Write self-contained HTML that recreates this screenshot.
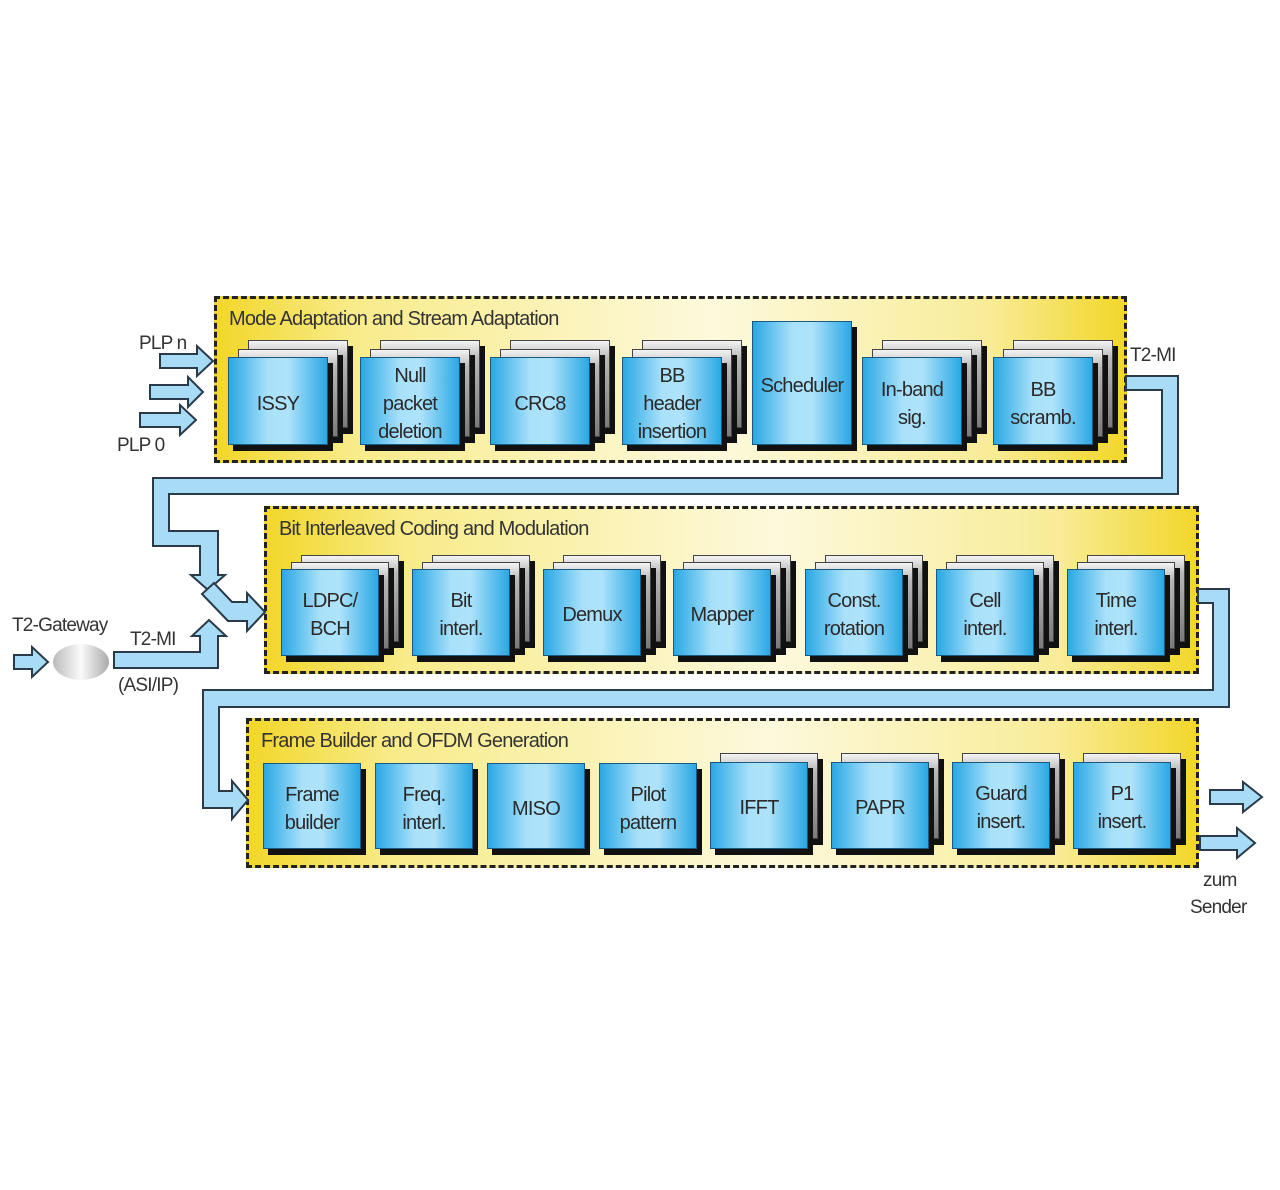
<!DOCTYPE html>
<html><head><meta charset="utf-8"><style>
body{margin:0;background:#fff;}
#c{position:relative;width:1280px;height:1190px;overflow:hidden;font-family:"Liberation Sans",sans-serif;color:#2a2a2a;}
.p{position:absolute;border:3px dashed #222;box-sizing:border-box;background:linear-gradient(90deg,#f2d72a 0%,#f8eb8a 15%,#fdf9dc 55%,#f8ec98 85%,#f2d72a 100%);}
.pt{position:absolute;left:12px;top:9px;font-size:20px;letter-spacing:-0.8px;color:#333;white-space:nowrap;}
.b{position:absolute;box-sizing:border-box;border:1px solid #1a5a80;background:linear-gradient(90deg,#2aa8e4 0%,#a9e1fa 40%,#aee3fb 60%,#2aa8e4 100%);box-shadow:5px 6px 0 #111;display:flex;align-items:center;justify-content:center;text-align:center;font-size:20px;line-height:28px;letter-spacing:-0.8px;color:#2a2a2a;padding-top:5px;}
.g{position:absolute;box-sizing:border-box;border:1px solid #444;background:linear-gradient(180deg,#f4f4f4 0%,#b8b8b8 20%,#7a7a7a 100%);box-shadow:5px 6px 0 #111;}
.t{position:absolute;font-size:19px;letter-spacing:-0.8px;color:#333;white-space:nowrap;}
</style></head><body><div id="c">

<div class="p" style="left:214px;top:296px;width:913px;height:167px;"><div class="pt">Mode Adaptation and Stream Adaptation</div></div>
<div class="p" style="left:264px;top:506px;width:935px;height:168px;"><div class="pt">Bit Interleaved Coding and Modulation</div></div>
<div class="p" style="left:246px;top:718px;width:953px;height:150px;"><div class="pt">Frame Builder and OFDM Generation</div></div>

<!-- Row 1 -->
<div class="g" style="left:248px;top:340px;width:100px;height:88px"></div><div class="g" style="left:238px;top:349px;width:100px;height:88px"></div><div class="b" style="left:228px;top:357px;width:100px;height:88px">ISSY</div>
<div class="g" style="left:380px;top:340px;width:100px;height:88px"></div><div class="g" style="left:370px;top:349px;width:100px;height:88px"></div><div class="b" style="left:360px;top:357px;width:100px;height:88px">Null<br>packet<br>deletion</div>
<div class="g" style="left:510px;top:340px;width:100px;height:88px"></div><div class="g" style="left:500px;top:349px;width:100px;height:88px"></div><div class="b" style="left:490px;top:357px;width:100px;height:88px">CRC8</div>
<div class="g" style="left:642px;top:340px;width:100px;height:88px"></div><div class="g" style="left:632px;top:349px;width:100px;height:88px"></div><div class="b" style="left:622px;top:357px;width:100px;height:88px">BB<br>header<br>insertion</div>
<div class="b" style="left:752px;top:321px;width:100px;height:124px">Scheduler</div>
<div class="g" style="left:882px;top:340px;width:100px;height:88px"></div><div class="g" style="left:872px;top:349px;width:100px;height:88px"></div><div class="b" style="left:862px;top:357px;width:100px;height:88px">In-band<br>sig.</div>
<div class="g" style="left:1013px;top:340px;width:100px;height:88px"></div><div class="g" style="left:1003px;top:349px;width:100px;height:88px"></div><div class="b" style="left:993px;top:357px;width:100px;height:88px">BB<br>scramb.</div>

<!-- Row 2 -->
<div class="g" style="left:301px;top:555px;width:98px;height:87px"></div><div class="g" style="left:291px;top:562px;width:98px;height:87px"></div><div class="b" style="left:281px;top:569px;width:98px;height:87px">LDPC/<br>BCH</div>
<div class="g" style="left:432px;top:555px;width:98px;height:87px"></div><div class="g" style="left:422px;top:562px;width:98px;height:87px"></div><div class="b" style="left:412px;top:569px;width:98px;height:87px">Bit<br>interl.</div>
<div class="g" style="left:563px;top:555px;width:98px;height:87px"></div><div class="g" style="left:553px;top:562px;width:98px;height:87px"></div><div class="b" style="left:543px;top:569px;width:98px;height:87px">Demux</div>
<div class="g" style="left:693px;top:555px;width:98px;height:87px"></div><div class="g" style="left:683px;top:562px;width:98px;height:87px"></div><div class="b" style="left:673px;top:569px;width:98px;height:87px">Mapper</div>
<div class="g" style="left:825px;top:555px;width:98px;height:87px"></div><div class="g" style="left:815px;top:562px;width:98px;height:87px"></div><div class="b" style="left:805px;top:569px;width:98px;height:87px">Const.<br>rotation</div>
<div class="g" style="left:956px;top:555px;width:98px;height:87px"></div><div class="g" style="left:946px;top:562px;width:98px;height:87px"></div><div class="b" style="left:936px;top:569px;width:98px;height:87px">Cell<br>interl.</div>
<div class="g" style="left:1087px;top:555px;width:98px;height:87px"></div><div class="g" style="left:1077px;top:562px;width:98px;height:87px"></div><div class="b" style="left:1067px;top:569px;width:98px;height:87px">Time<br>interl.</div>

<!-- Row 3 -->
<div class="b" style="left:263px;top:763px;width:98px;height:86px">Frame<br>builder</div>
<div class="b" style="left:375px;top:763px;width:98px;height:86px">Freq.<br>interl.</div>
<div class="b" style="left:487px;top:763px;width:98px;height:86px">MISO</div>
<div class="b" style="left:599px;top:763px;width:98px;height:86px">Pilot<br>pattern</div>
<div class="g" style="left:720px;top:753px;width:98px;height:86px"></div><div class="b" style="left:710px;top:762px;width:98px;height:87px">IFFT</div>
<div class="g" style="left:841px;top:753px;width:98px;height:86px"></div><div class="b" style="left:831px;top:762px;width:98px;height:87px">PAPR</div>
<div class="g" style="left:962px;top:753px;width:98px;height:86px"></div><div class="b" style="left:952px;top:762px;width:98px;height:87px">Guard<br>insert.</div>
<div class="g" style="left:1083px;top:753px;width:98px;height:86px"></div><div class="b" style="left:1073px;top:762px;width:98px;height:87px">P1<br>insert.</div>

<svg style="position:absolute;left:0;top:0" width="1280" height="1190">
<defs><linearGradient id="cl" x1="0" x2="1"><stop offset="0" stop-color="#bbb"/><stop offset="0.5" stop-color="#fafafa"/><stop offset="1" stop-color="#aaa"/></linearGradient></defs>
<g fill="#a8dcf6" stroke="#2a3a48" stroke-width="2" stroke-linejoin="miter">
<polygon points="1126,376 1178,376 1178,494 169,494 169,531 218,531 218,575 225,575 208,590 191,575 200,575 200,546 153,546 153,478 1162,478 1162,390 1126,390"/>
<polygon points="202,594 214,583 232,602 247,602 247,593 265,612 247,631 247,621 228,621"/>
<polygon points="114,668 114,652 200,652 200,636 192,636 209,620 226,636 218,636 218,668"/>
<polygon points="1198,589 1229,589 1229,707 219,707 219,791 232,791 232,781 248,800 232,819 232,808 203,808 203,690 1213,690 1213,603 1198,603"/>
<polygon points="160,354 197,354 197,346 213,361 197,376 197,368 160,368"/>
<polygon points="150,385 188,385 188,377 203,392 188,407 188,399 150,399"/>
<polygon points="140,413 180,413 180,405 196,420 180,435 180,427 140,427"/>
<polygon points="14,655 32,655 32,647 48,662 32,677 32,669 14,669"/>
<polygon points="1210,790 1243,790 1243,782 1262,797 1243,812 1243,804 1210,804"/>
<polygon points="1200,836 1237,836 1237,828 1255,843 1237,858 1237,850 1200,850"/>
</g>
<ellipse cx="81" cy="662" rx="28" ry="18" fill="url(#cl)"/>
</svg>

<div class="t" style="left:139px;top:333px;">PLP n</div>
<div class="t" style="left:117px;top:435px;">PLP 0</div>
<div class="t" style="left:1130px;top:345px;">T2-MI</div>
<div class="t" style="left:12px;top:615px;">T2-Gateway</div>
<div class="t" style="left:130px;top:629px;">T2-MI</div>
<div class="t" style="left:118px;top:675px;">(ASI/IP)</div>
<div class="t" style="left:1203px;top:870px;">zum</div>
<div class="t" style="left:1190px;top:897px;">Sender</div>
</div></body></html>
